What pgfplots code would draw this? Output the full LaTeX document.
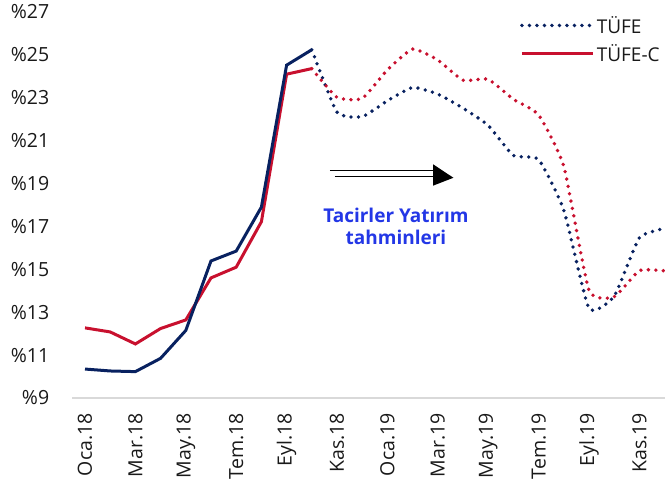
\documentclass[border=0pt]{standalone}
\usepackage{pgfplots}
\pgfplotsset{compat=1.18}
\usepackage{fontspec}
\setmainfont{Open Sans}
\definecolor{navy}{RGB}{8,33,96}
\definecolor{crim}{RGB}{200,16,46}
\definecolor{tblue}{RGB}{35,55,230}
\definecolor{axgray}{RGB}{217,217,217}
\begin{document}
\begin{tikzpicture}
\begin{axis}[
  at={(0,0)}, anchor=south west,
  scale only axis, width=592.6pt, height=386pt,
  xmin=-0.5, xmax=23.016, ymin=9, ymax=27,
  axis x line=bottom, axis y line=left,
  axis line style={-},
  y axis line style={draw=none},
  x axis line style={draw=axgray, line width=1.5pt},
  major tick length=0pt,
  xtick={0,2,...,22},
  xticklabels={Oca.18,Mar.18,May.18,Tem.18,Eyl.18,Kas.18,Oca.19,Mar.19,May.19,Tem.19,Eyl.19,Kas.19},
  ytick={9,11,...,27},
  yticklabel={\%\pgfmathprintnumber{\tick}},
  /pgf/number format/assume math mode=true,
  tick label style={font=\fontsize{19.5}{22}\selectfont, text=black!90},
  xticklabel style={rotate=90, anchor=east, inner sep=0pt},
  xticklabel shift=15pt,
  yticklabel style={anchor=east, inner sep=0pt},
  yticklabel shift=23pt,
  legend style={draw=none, fill=none, at={(0.750,1.0)}, anchor=north west,
    font=\fontsize{19}{22}\selectfont, row sep=6pt,
    nodes={inner sep=2pt, text=black!90}},
  legend cell align=left,
  legend image code/.code={\draw[#1] (0pt,0pt) -- (71pt,0pt);},
]
% forecasts (smooth, dotted)
\addplot[navy, line width=3.8pt, line cap=round, dash pattern=on 0pt off 7.5pt, smooth, tension=0.3] coordinates {
(9,25.24) (10,22.33) (11,22.12) (12,22.86) (13,23.48) (14,23.17) (15,22.52) (16,21.71) (17,20.31) (18,20.12) (19,17.76) (20,13.18) (21,13.75) (22,16.47) (23,16.90)};
\addlegendentry{TÜFE}
\addplot[crim, line width=3pt] coordinates {
(0,12.27) (1,12.08) (2,11.52) (3,12.24) (4,12.64) (5,14.60) (6,15.10) (7,17.22) (8,24.10) (9,24.36)};
\addlegendentry{TÜFE-C}
\addplot[crim, line width=3.8pt, line cap=round, dash pattern=on 0pt off 7.5pt, smooth, tension=0.3, forget plot] coordinates {
(9,24.36) (10,23.02) (11,22.97) (12,24.30) (13,25.27) (14,24.76) (15,23.82) (16,23.86) (17,22.93) (18,22.20) (19,19.80) (20,14.02) (21,13.72) (22,14.94) (23,14.93)};
\addplot[navy, line width=3pt, forget plot] coordinates {
(0,10.35) (1,10.26) (2,10.23) (3,10.85) (4,12.15) (5,15.39) (6,15.85) (7,17.90) (8,24.52) (9,25.24)};
% annotation
\draw[black, line width=1.5pt] (axis cs:9.72,19.60) -- (axis cs:13.97,19.60);
\draw[black, line width=1.5pt] (axis cs:9.92,19.32) -- (axis cs:13.97,19.32);
\fill[black] (axis cs:13.81,19.90) -- (axis cs:14.62,19.27) -- (axis cs:13.81,18.90) -- cycle;
\node[text=tblue, font=\fontsize{19}{22}\selectfont\bfseries, align=center] at (axis cs:12.34,17.02) {Tacirler Yatırım\\tahminleri};
\end{axis}
\pgfresetboundingbox
\path[use as bounding box] (-72.4pt,-86pt) rectangle (592.6pt,398pt);
\end{tikzpicture}
\end{document}
